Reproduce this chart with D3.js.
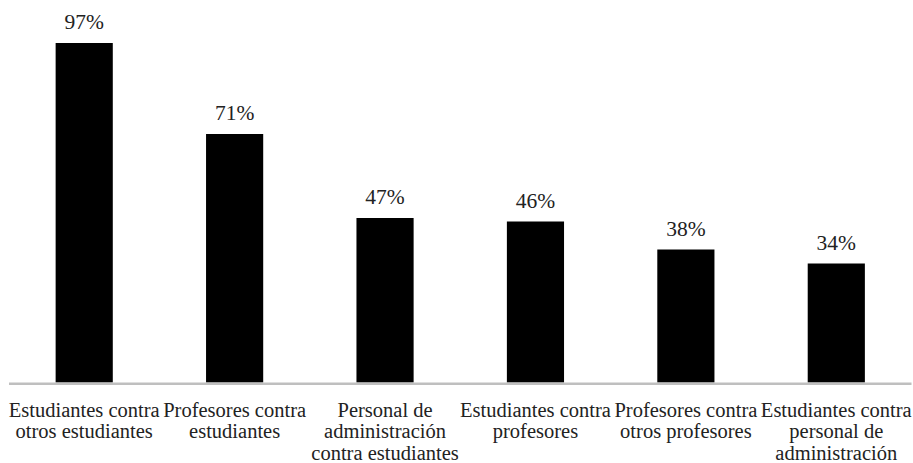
<!DOCTYPE html>
<html>
<head>
<meta charset="utf-8">
<script src="https://cdn.jsdelivr.net/npm/d3@7"></script>
<style>
  html, body { margin: 0; padding: 0; background: #fff; }
  svg { display: block; }
  text { font-family: "Liberation Serif", "Tinos", "DejaVu Serif", serif; }
</style>
</head>
<body>
<svg id="chart" width="913" height="463"></svg>
<script>
// Data
const categories = [
  "Estudiantes contra otros estudiantes",
  "Profesores contra estudiantes",
  "Personal de administración contra estudiantes",
  "Estudiantes contra profesores",
  "Profesores contra otros profesores",
  "Estudiantes contra personal de administración"
];
const categoryLines = [
  ["Estudiantes contra", "otros estudiantes"],
  ["Profesores contra", "estudiantes"],
  ["Personal de", "administración", "contra estudiantes"],
  ["Estudiantes contra", "profesores"],
  ["Profesores contra", "otros profesores"],
  ["Estudiantes contra", "personal de", "administración"]
];
const values = [97, 71, 47, 46, 38, 34];
const valueLabels = ["97%", "71%", "47%", "46%", "38%", "34%"];

const svg = d3.select("#chart");

const x = d3.scaleBand()
  .domain(categories)
  .range([9, 911.5])
  .paddingInner(0.62)
  .paddingOuter(0.31);

const y = d3.scaleLinear()
  .domain([0, 100])
  .range([382.5, 32.5]);

// Bars
svg.append("g").selectAll("rect")
  .data(categories)
  .join("rect")
  .attr("x", d => x(d))
  .attr("width", x.bandwidth())
  .attr("y", (d, i) => y(values[i]))
  .attr("height", (d, i) => y(0) - y(values[i]))
  .attr("fill", "#000");

// Axis line
svg.append("line")
  .attr("x1", x.range()[0])
  .attr("x2", x.range()[1])
  .attr("y1", y(0) + 1.25)
  .attr("y2", y(0) + 1.25)
  .attr("stroke", "#bfbfbf")
  .attr("stroke-width", 2.5);

// Value labels
svg.append("g").selectAll("text")
  .data(categories)
  .join("text")
  .attr("x", d => x(d) + x.bandwidth() / 2)
  .attr("y", (d, i) => y(values[i]) - 14)
  .attr("text-anchor", "middle")
  .style("font-size", "21.5px")
  .attr("fill", "#222")
  .text((d, i) => valueLabels[i]);

// Category labels
const catG = svg.append("g");
categories.forEach((c, i) => {
  const t = catG.append("text")
    .attr("x", x(c) + x.bandwidth() / 2)
    .attr("y", 416.5)
    .attr("text-anchor", "middle")
    .style("font-size", "20.5px")
    .attr("fill", "#222");
  categoryLines[i].forEach((line, j) => {
    t.append("tspan")
      .attr("x", x(c) + x.bandwidth() / 2)
      .attr("y", 416.5 + j * 21.7)
      .text(line);
  });
});
</script>
</body>
</html>
